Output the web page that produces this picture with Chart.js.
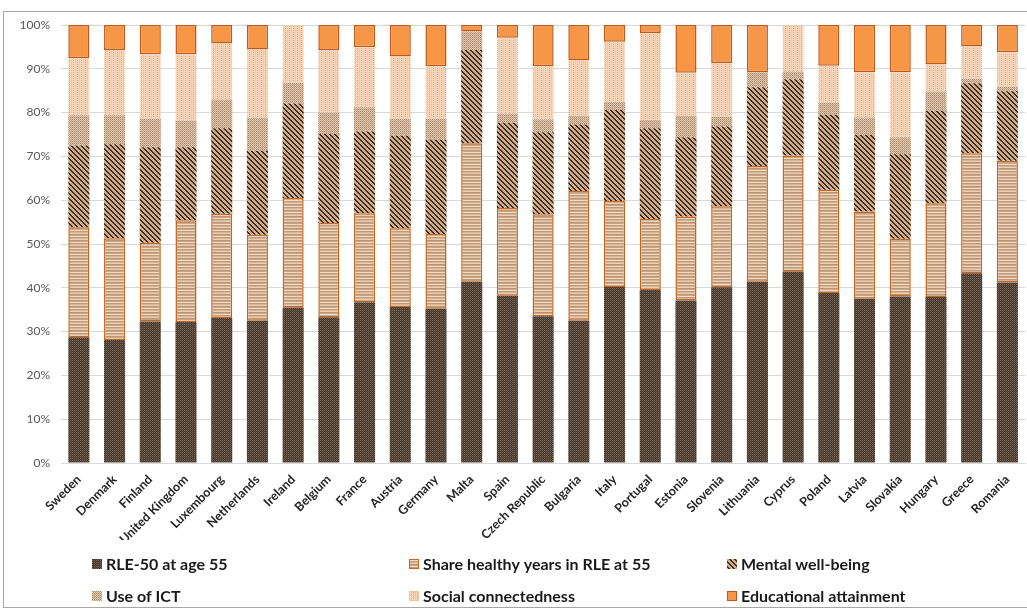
<!DOCTYPE html>
<html>
<head>
<meta charset="utf-8">
<script src="https://cdn.jsdelivr.net/npm/chart.js@4.4.1/dist/chart.umd.min.js"></script>
<style>
  html, body { margin: 0; padding: 0; background: #ffffff; overflow: hidden; }
  #wrap { position: relative; width: 1027px; height: 610px; }
  canvas { position: absolute; left: 0; top: 0; }
</style>
</head>
<body>
<div id="wrap"><canvas id="c" width="1027" height="610"></canvas></div>
<script>
const categories = ['Sweden','Denmark','Finland','United Kingdom','Luxembourg','Netherlands','Ireland','Belgium','France','Austria','Germany','Malta','Spain','Czech Republic','Bulgaria','Italy','Portugal','Estonia','Slovenia','Lithuania','Cyprus','Poland','Latvia','Slovakia','Hungary','Greece','Romania'];

const seriesNames = ['RLE-50 at age 55','Share healthy years in RLE at 55','Mental well-being','Use of ICT','Social connectedness','Educational attainment'];

const rle    = [28.7,28.1,32.3,32.2,33.1,32.5,35.5,33.3,36.7,35.6,35.2,41.4,38.2,33.5,32.5,40.2,39.5,37.1,40.1,41.4,43.7,38.8,37.5,38.0,37.9,43.3,41.2];
const share  = [25.1,23.2,18.0,23.2,23.8,19.6,25.0,21.5,20.3,18.0,17.1,31.6,20.0,23.3,29.6,19.6,16.2,19.2,18.5,26.4,26.5,23.6,19.9,13.2,21.4,27.4,27.8];
const mental = [18.7,21.5,21.8,16.7,19.5,19.2,21.6,20.3,18.7,21.1,21.5,21.3,19.5,18.7,15.2,20.8,20.7,18.1,18.2,18.0,17.4,17.1,17.5,19.3,21.1,16.0,15.9];
const ict    = [6.9,6.6,6.5,6.1,6.6,7.5,4.7,4.9,5.5,3.9,4.8,4.2,2.1,3.0,2.0,1.8,1.9,4.9,2.3,3.4,1.8,2.8,4.0,3.9,4.4,1.0,1.0];
const social = [13.0,14.9,14.7,15.1,12.8,15.6,13.2,14.3,13.7,14.2,12.0,0,17.3,12.1,12.6,13.8,19.9,9.8,12.2,0,10.6,8.4,10.3,14.8,6.2,7.4,7.9];
const edu    = [7.6,5.7,6.7,6.7,4.2,5.6,0,5.7,5.1,7.2,9.4,1.5,2.9,9.4,8.1,3.8,1.8,10.9,8.7,10.8,0,9.3,10.8,10.8,9.0,4.9,6.2];

const yTicks = [0,10,20,30,40,50,60,70,80,90,100];

const canvas = document.getElementById('c');
const mainCtx = canvas.getContext('2d');

function makePattern(w, h, colorAt) {
  const c = document.createElement('canvas');
  c.width = w; c.height = h;
  const x = c.getContext('2d');
  for (let i = 0; i < w; i++) {
    for (let j = 0; j < h; j++) {
      x.fillStyle = colorAt(i, j);
      x.fillRect(i, j, 1, 1);
    }
  }
  return mainCtx.createPattern(c, 'repeat');
}

const patRle = makePattern(4, 4, (i, j) => {
  if ((i + j) % 2 === 0) return (i % 2 === 0) ? '#7a6858' : '#5e4e41';
  return '#45372c';
});
const patShare = makePattern(4, 6, (i, j) => ['#b89376','#cba88a','#f6dbc0','#bf9b7e','#d6b597','#ecceb1'][j]);
const patMental = makePattern(5, 5, (i, j) => (((i - j) % 5 + 5) % 5 < 2) ? '#3b2e24' : '#d4ae8c');
const patIct = makePattern(4, 4, (i, j) => {
  if ((i + j) % 2 === 0) return '#e1c8ae';
  return (i % 2 === 0) ? '#a8886b' : '#c2a186';
});
const patSocial = makePattern(4, 4, (i, j) => (i === 1 && j % 2 === 0) ? '#dca57c' : (i === 3 ? '#f1c7a4' : '#f8d6b9'));

const styles = [
  { bg: patRle,    border: '#4a3c31', bw: 0 },
  { bg: patShare,  border: '#c4661f', bw: 1.5 },
  { bg: patMental, border: '#3b2e24', bw: 0 },
  { bg: patIct,    border: '#b08f73', bw: 0 },
  { bg: patSocial, border: '#efc29c', bw: 0.5 },
  { bg: '#f79646', border: '#c0581a', bw: 1.5 }
];

const seriesData = [rle, share, mental, ict, social, edu];

const datasets = seriesData.map((d, i) => ({
  label: seriesNames[i],
  data: d,
  backgroundColor: styles[i].bg,
  borderColor: styles[i].border,
  borderWidth: styles[i].bw,
  borderSkipped: false,
  barPercentage: 0.59,
  categoryPercentage: 1.0
}));

const frameAndLegend = {
  id: 'frameAndLegend',
  beforeDraw(chart) {
    const ctx = chart.ctx;
    ctx.save();
    ctx.fillStyle = '#ffffff';
    ctx.fillRect(0, 0, chart.width, chart.height);
    ctx.strokeStyle = '#a6a6a6';
    ctx.lineWidth = 1;
    ctx.strokeRect(3.5, 11.5, chart.width + 10, chart.height - 14);
    ctx.restore();
  },
  afterDraw(chart) {
    const ctx = chart.ctx;
    const colX = [92, 409, 727];
    const rowY = [564, 596];
    ctx.save();
    ctx.font = 'bold 16px Lato';
    ctx.textBaseline = 'middle';
    ctx.textAlign = 'left';
    chart.data.datasets.forEach((ds, i) => {
      const x = colX[i % 3];
      const y = rowY[Math.floor(i / 3)];
      ctx.fillStyle = ds.backgroundColor;
      ctx.fillRect(x, y - 5, 10, 10);
      if (ds.borderWidth > 0) {
        ctx.strokeStyle = ds.borderColor;
        ctx.lineWidth = 1;
        ctx.strokeRect(x + 0.5, y - 4.5, 9, 9);
      }
      ctx.fillStyle = '#1a1a1a';
      ctx.fillText(ds.label, x + 14, y + 1);
    });
    ctx.restore();
  }
};

new Chart(mainCtx, {
  type: 'bar',
  data: { labels: categories, datasets },
  options: {
    responsive: false,
    animation: false,
    devicePixelRatio: 1,
    layout: { padding: { top: 25, left: 0, right: 0, bottom: 70 } },
    plugins: {
      legend: { display: false },
      tooltip: { enabled: false }
    },
    scales: {
      x: {
        stacked: true,
        grid: { display: false, drawTicks: false },
        border: { display: true, color: '#d9d9d9', width: 1 },
        ticks: {
          autoSkip: false,
          minRotation: 45,
          maxRotation: 45,
          padding: 9,
          color: '#262626',
          font: { family: 'Lato', weight: 'bold', size: 12.5 }
        },
        afterFit(scale) { scale.height = 77; }
      },
      y: {
        stacked: true,
        min: 0,
        max: 100,
        afterBuildTicks(scale) { scale.ticks = yTicks.map(v => ({ value: v })); },
        grid: { color: '#d9d9d9', lineWidth: 1, drawTicks: false },
        border: { display: false },
        ticks: {
          padding: 11,
          color: '#595959',
          font: { family: 'Lato', size: 12 },
          callback: (v) => v + '%'
        },
        afterFit(scale) { scale.width = 61; }
      }
    }
  },
  plugins: [frameAndLegend]
});
</script>
</body>
</html>
